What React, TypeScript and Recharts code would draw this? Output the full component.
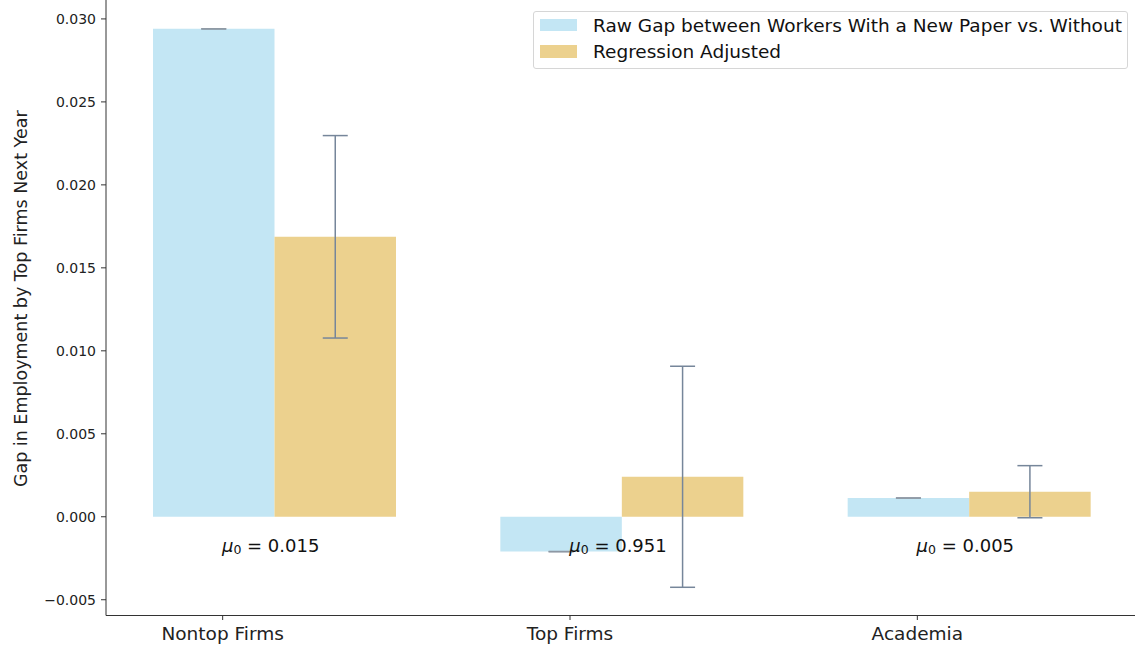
import React from "react";
import {
  BarChart,
  Bar,
  XAxis,
  YAxis,
  ErrorBar,
  ReferenceDot,
  Legend,
} from "recharts";

const categories = ["Nontop Firms", "Top Firms", "Academia"];
const rawGap = [0.0294, -0.0021, 0.00113];
// raw gaps have (near) zero error; only the cap shows
const rawGapErr = [0.000001, 0.000001, 0.000001];
const adjusted = [0.01687, 0.00241, 0.00151];
const adjustedErr = [0.0061, 0.00666, 0.00157];
const baselineMeans = ["0.015", "0.951", "0.005"];
const baselineLabelY = -0.0017;
const yTicks = [-0.005, 0, 0.005, 0.01, 0.015, 0.02, 0.025, 0.03];

const seriesNames = [
  "Raw Gap between Workers With a New Paper vs. Without",
  "Regression Adjusted",
];
const BLUE = "#c3e6f4";
const GOLD = "#ecd18e";
const ERR = "#76869a";
const FONT = "'DejaVu Sans', sans-serif";

const data = categories.map((name, i) => ({
  name,
  raw: rawGap[i],
  rawErr: rawGapErr[i],
  adj: adjusted[i],
  adjErr: adjustedErr[i],
}));

const fmtTick = (v: number) => {
  const s = Math.abs(v).toFixed(3);
  return v < -1e-9 ? `\u2212${s}` : s;
};

const XTick = (props: any) => {
  const { x, y, payload } = props;
  const tx = x - 52;
  return (
    <g>
      <line x1={tx} y1={y} x2={tx} y2={y + 4.5} stroke="#333" strokeWidth={1} />
      <text
        x={tx}
        y={y + 18}
        textAnchor="middle"
        dominantBaseline="central"
        fontSize={18.5}
        fontFamily={FONT}
        fill="#222"
      >
        {payload.value}
      </text>
    </g>
  );
};

const MuLabel = ({ viewBox, value }: any) => {
  const cx = viewBox.x + (viewBox.width || 0) / 2 - 4;
  const cy = viewBox.y + (viewBox.height || 0) / 2;
  return (
    <text
      x={cx}
      y={cy}
      textAnchor="middle"
      dominantBaseline="central"
      fontSize={18}
      fontFamily={FONT}
      fill="#111"
    >
      <tspan fontStyle="italic">μ</tspan>
      <tspan fontSize={12.5} dy={4}>0</tspan>
      <tspan dy={-4}>{` = ${value}`}</tspan>
    </text>
  );
};

const LegendBox = () => (
  <div
    style={{
      boxSizing: "border-box",
      width: 595,
      height: 58,
      border: "1px solid #d6d6d6",
      borderRadius: 3,
      background: "rgba(255,255,255,0.85)",
      fontFamily: FONT,
      fontSize: 18.5,
      color: "#111",
      position: "relative",
    }}
  >
    {seriesNames.map((n, i) => (
      <div
        key={n}
        style={{
          position: "absolute",
          left: 6,
          top: 1 + i * 26.5,
          height: 24,
          display: "flex",
          alignItems: "center",
          whiteSpace: "nowrap",
        }}
      >
        <span
          style={{
            display: "inline-block",
            width: 37,
            height: 12.5,
            background: i === 0 ? BLUE : GOLD,
            marginRight: 16,
          }}
        />
        <span>{n}</span>
      </div>
    ))}
  </div>
);

export default function App() {
  return (
    <div style={{ position: "absolute", left: 0, top: 0, background: "#fff" }}>
      <BarChart
        width={1135}
        height={645}
        data={data}
        barGap={0}
        margin={{ top: 0, right: 0, bottom: 0, left: 0 }}
      >
        <XAxis
          dataKey="name"
          height={29.5}
          padding={{ left: -5, right: -8 }}
          axisLine={{ stroke: "#333", strokeWidth: 1 }}
          tickLine={false}
          tickSize={0}
          tickMargin={0}
          tick={<XTick />}
          interval={0}
        />
        <YAxis
          width={106}
          type="number"
          domain={[-0.00595, 0.03114]}
          allowDataOverflow
          ticks={yTicks}
          tickFormatter={fmtTick}
          tickSize={5}
          tickMargin={5}
          axisLine={{ stroke: "#333", strokeWidth: 1 }}
          tickLine={{ stroke: "#333", strokeWidth: 1 }}
          tick={{ fontSize: 14, fontFamily: FONT, fill: "#222" }}
          label={{
            content: ({ viewBox }: any) => {
              const x = viewBox.x + 21;
              const y = viewBox.y + viewBox.height / 2 - 9;
              return (
                <text
                  x={x}
                  y={y}
                  transform={`rotate(-90 ${x} ${y})`}
                  textAnchor="middle"
                  dominantBaseline="central"
                  fontSize={17.5}
                  fontFamily={FONT}
                  fill="#222"
                >
                  Gap in Employment by Top Firms Next Year
                </text>
              );
            },
          }}
        />
        <Legend
          layout="horizontal"
          verticalAlign="middle"
          align="center"
          wrapperStyle={{ top: 11, left: 533, width: 595 }}
          content={() => <LegendBox />}
        />
        <Bar
          dataKey="raw"
          name={seriesNames[0]}
          fill={BLUE}
          barSize={121.5}
          isAnimationActive={false}
        >
          <ErrorBar
            dataKey="rawErr"
            width={12.5}
            stroke="#8e98a4"
            strokeWidth={1.5}
            direction="y"
          />
        </Bar>
        <Bar
          dataKey="adj"
          name={seriesNames[1]}
          fill={GOLD}
          barSize={121.5}
          isAnimationActive={false}
        >
          <ErrorBar
            dataKey="adjErr"
            width={12.5}
            stroke={ERR}
            strokeWidth={1.5}
            direction="y"
          />
        </Bar>
        {categories.map((c, i) => (
          <ReferenceDot
            key={c}
            x={c}
            y={baselineLabelY}
            r={0}
            fill="none"
            stroke="none"
            label={{
              content: (p: any) => <MuLabel viewBox={p.viewBox} value={baselineMeans[i]} />,
            }}
          />
        ))}
      </BarChart>
    </div>
  );
}
